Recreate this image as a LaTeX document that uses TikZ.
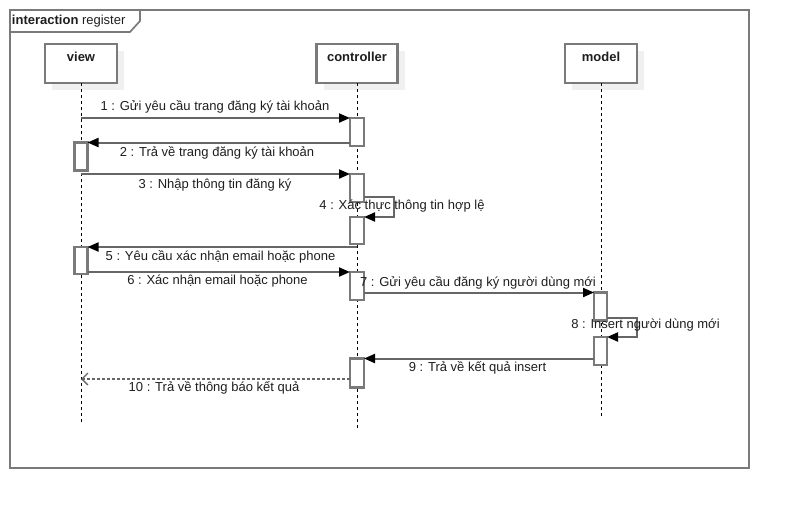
\documentclass[tikz,border=0pt]{standalone}
\usepackage{fontspec}
\setmainfont{Liberation Sans}
\usetikzlibrary{arrows.meta,calc}
\definecolor{edge}{HTML}{7A7A7A}
\definecolor{msgline}{HTML}{666666}
\definecolor{shade}{HTML}{F0F0F0}
\definecolor{ink}{HTML}{1E1E1E}
\begin{document}
\begin{tikzpicture}[x=1pt,y=-1pt,
  every node/.style={font=\fontsize{13}{15}\selectfont, text=ink, inner sep=0pt, outer sep=0pt},
  head/.style={draw=edge, line width=2.4pt, fill=white, minimum height=39pt, anchor=north},
  headshade/.style={fill=shade, draw=none, minimum height=39pt, anchor=north},
  lifeline/.style={black, line width=1pt, dash pattern=on 3pt off 3pt},
  act/.style={draw=edge, line width=2.3pt, fill=white, minimum width=13pt, anchor=north},
  msg/.style={msgline, line width=2pt, -{Triangle[length=11pt,width=9pt,color=black]}},
  reply/.style={msgline, line width=1.4pt, dash pattern=on 3pt off 2pt,
    -{Straight Barb[length=6pt,width=12pt,line width=1.3pt,color=msgline]}},
  lbl/.style={anchor=center}
]
\useasboundingbox (0,0) rectangle (789,509);

% interaction frame and its title tab
\draw[edge, line width=1.7pt] (10,10) rectangle (749,468);
\draw[edge, line width=1.7pt] (10,32) -- (130,32) -- (140,21) -- (140,10);
\node[anchor=west] (title) at (12,21) {\textbf{interaction} register};

% lifeline heads with their soft shadows
\node[headshade, minimum width=72pt] at (88,51) {};
\node[headshade, minimum width=81pt] at (364,51) {};
\node[headshade, minimum width=72pt] at (608,51) {};
\node[head, minimum width=72pt] (view) at (81,44) {};
\node[head, minimum width=81pt] (ctrl) at (357,44) {};
\node[head, minimum width=72pt] (model) at (601,44) {};
\node[font=\fontsize{13}{15}\selectfont\bfseries] (viewname) at (81,57) {view};
\node[font=\fontsize{13}{15}\selectfont\bfseries] (ctrlname) at (357,57) {controller};
\node[font=\fontsize{13}{15}\selectfont\bfseries] (modelname) at (601,57) {model};

% dashed lifelines
\coordinate (vl) at (view.south);
\coordinate (cl) at (ctrl.south);
\coordinate (ml) at (model.south);
\coordinate (vend) at (81,424);
\coordinate (cend) at (357,430);
\coordinate (mend) at (601,418);
\draw[lifeline] (vl) -- (vend);
\draw[lifeline] (cl) -- (cend);
\draw[lifeline] (ml) -- (mend);

% activation bars
\node[act, minimum width=14pt, minimum height=28pt] (c1) at (357,118) {};
\node[act, minimum width=13pt, minimum height=28pt] (v1) at (81,142.5) {};
\node[act, minimum width=14pt, minimum height=28pt] (c2) at (357,174) {};
\node[act, minimum width=14pt, minimum height=27pt] (c3) at (357,217) {};
\node[act, minimum width=13pt, minimum height=27pt] (v2) at (81,247) {};
\node[act, minimum width=14pt, minimum height=28pt] (c4) at (357,272) {};
\node[act, minimum width=13pt, minimum height=28pt] (m1) at (600.5,292.5) {};
\node[act, minimum width=13pt, minimum height=28pt] (m2) at (600.5,337) {};
\node[act, minimum width=14pt, minimum height=29pt] (c5) at (357,358.5) {};

% messages
\draw[msg] (vl |- c1.north) -- (c1.north west);
\draw[msg] (c1.west |- v1.north) -- (v1.north east);
\draw[msg] (vl |- c2.north) -- (c2.north west);
\draw[msg] ($(c2.south east)+(0,-5)$) -- ++(30,0) |- (c3.north east);
\draw[msg] (cl |- v2.north) -- (v2.north east);
\draw[msg] (v2.east |- c4.north) -- (c4.north west);
\draw[msg] (c4.east |- m1.north) -- (m1.north west);
\draw[msg] ($(m1.south east)+(0,-3)$) -- ++(30,0) |- (m2.north east);
\draw[msg] (m2.west |- c5.north) -- (c5.north east);
\coordinate (r10) at ($(c5.west)+(0,6)$);
\draw[reply] (r10) -- (vl |- r10);

% message labels
\node[lbl] (l1) at (215,107) {1 : Gửi yêu cầu trang đăng ký tài khoản};
\node[lbl] (l2) at (217,153) {2 : Trả về trang đăng ký tài khoản};
\node[lbl] (l3) at (215,185.5) {3 : Nhập thông tin đăng ký};
\node[lbl] (l4) at (402,206) {4 : Xác thực thông tin hợp lệ};
\node[lbl] (l5) at (220.5,256.5) {5 : Yêu cầu xác nhận email hoặc phone};
\node[lbl] (l6) at (217.5,281.5) {6 : Xác nhận email hoặc phone};
\node[lbl] (l7) at (478,283) {7 : Gửi yêu cầu đăng ký người dùng mới};
\node[lbl] (l8) at (645.5,325) {8 : Insert người dùng mới};
\node[lbl] (l9) at (477.5,368) {9 : Trả về kết quả insert};
\node[lbl] (l10) at (214,388) {10 : Trả về thông báo kết quả};
\end{tikzpicture}
\end{document}
